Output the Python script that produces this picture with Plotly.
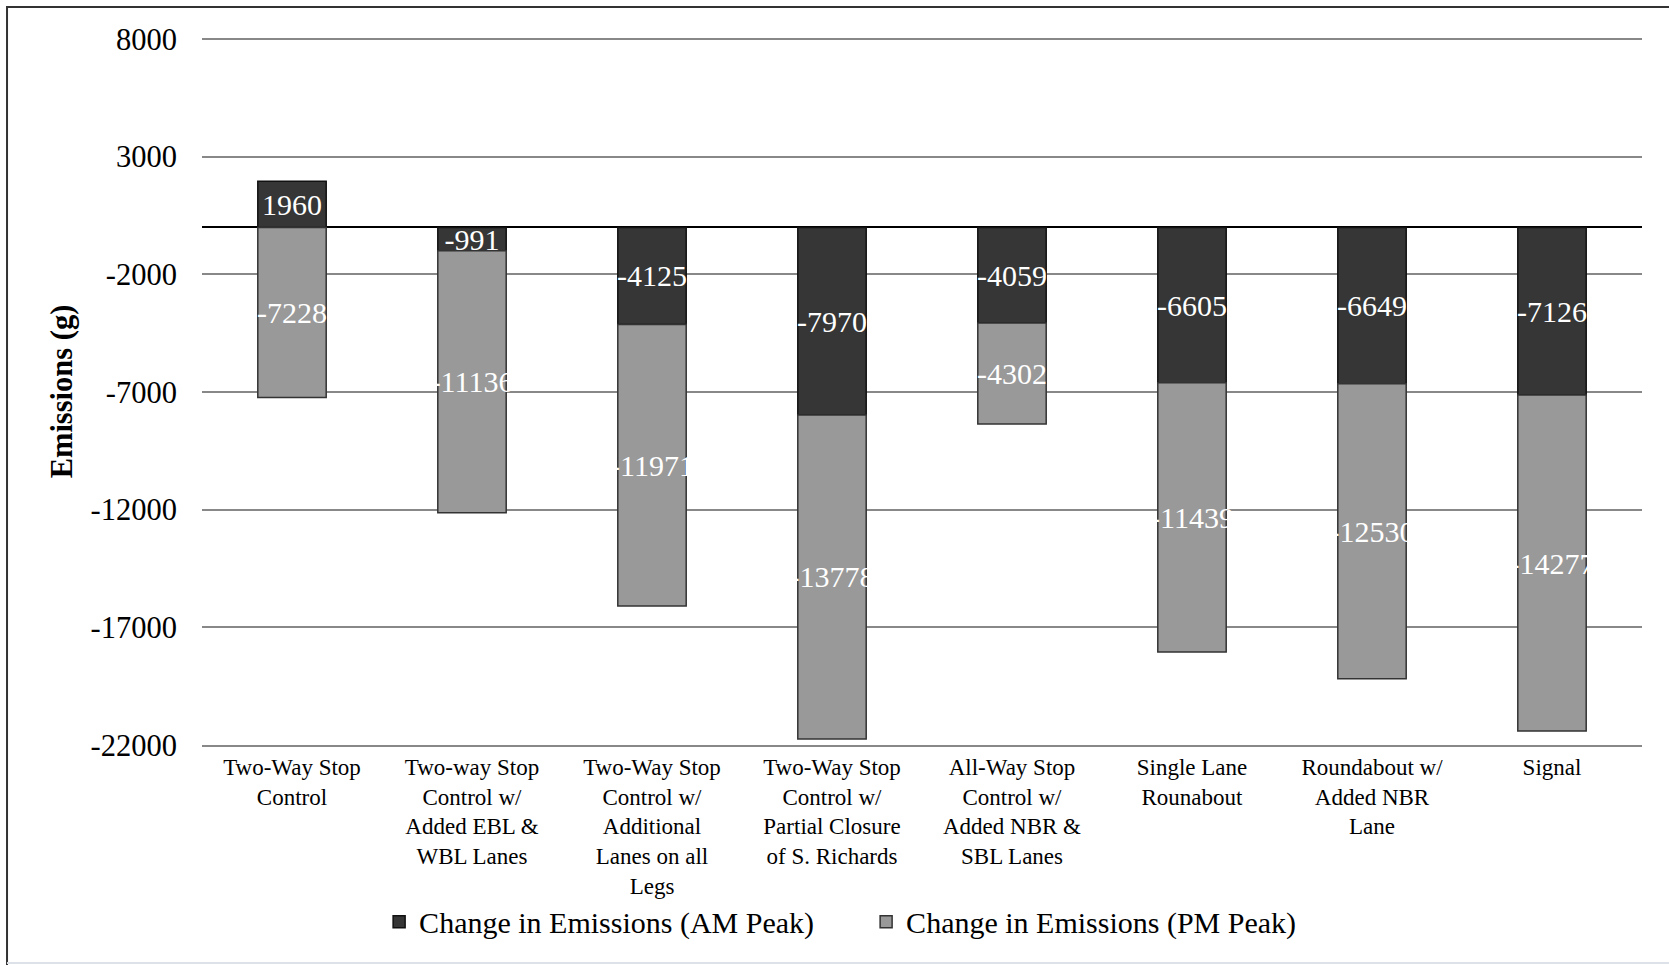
import plotly.graph_objects as go

categories = [
    "Two-Way Stop<br>Control",
    "Two-way Stop<br>Control w/<br>Added EBL &<br>WBL Lanes",
    "Two-Way Stop<br>Control w/<br>Additional<br>Lanes on all<br>Legs",
    "Two-Way Stop<br>Control w/<br>Partial Closure<br>of S. Richards",
    "All-Way Stop<br>Control w/<br>Added NBR &<br>SBL Lanes",
    "Single Lane<br>Rounabout",
    "Roundabout w/<br>Added NBR<br>Lane",
    "Signal",
]
am_peak = [1960, -991, -4125, -7970, -4059, -6605, -6649, -7126]
pm_peak = [-7228, -11136, -11971, -13778, -4302, -11439, -12530, -14277]
series_names = ["Change in Emissions (AM Peak)", "Change in Emissions (PM Peak)"]
y_ticks = [8000, 3000, -2000, -7000, -12000, -17000, -22000]

FONT = "Liberation Serif, Times New Roman, serif"

fig = go.Figure()
fig.add_trace(go.Bar(
    x=categories, y=am_peak, name=series_names[0],
    marker=dict(color="#353635", line=dict(color="#111111", width=1.5)),
    text=[str(v) for v in am_peak], textposition="inside",
    insidetextanchor="middle", constraintext="none", textangle=0,
    textfont=dict(family=FONT, size=30, color="white"),
))
fig.add_trace(go.Bar(
    x=categories, y=pm_peak, name=series_names[1],
    marker=dict(color="#999999", line=dict(color="#333333", width=1.5)),
    text=[str(v) for v in pm_peak], textposition="inside",
    insidetextanchor="middle", constraintext="none", textangle=0,
    textfont=dict(family=FONT, size=30, color="white"),
))

fig.update_layout(
    width=1669, height=965,
    barmode="relative", bargap=0.62,
    paper_bgcolor="white", plot_bgcolor="white",
    margin=dict(l=202, r=27, t=38, b=220),
    font=dict(family=FONT, color="black"),
    showlegend=True,
    legend=dict(
        orientation="h", x=0.123, xanchor="left", y=-0.25, yanchor="middle",
        font=dict(family=FONT, size=30, color="black"),
        entrywidth=442, traceorder="normal", bgcolor="rgba(0,0,0,0)",
    ),
    shapes=[
        dict(type="rect", xref="paper", yref="paper",
             x0=-0.1354, x1=1.03, y0=-0.33, y1=1.0438,
             line=dict(color="#333333", width=2), fillcolor="rgba(0,0,0,0)", layer="below"),
        dict(type="line", xref="paper", yref="paper",
             x0=-0.1354, x1=1.03, y0=-0.3083, y1=-0.3083,
             line=dict(color="#dde2e8", width=2), layer="below"),
    ],
)
fig.update_yaxes(
    range=[-22000, 8050], tickvals=y_ticks, ticktext=[str(v) for v in y_ticks],
    showgrid=True, gridcolor="#888888", gridwidth=2,
    zeroline=True, zerolinecolor="black", zerolinewidth=2,
    tickfont=dict(family=FONT, size=30.5, color="black"),
    ticklabelstandoff=24,
    title=dict(text="<b>Emissions (g)</b>", font=dict(family=FONT, size=30.5, color="black"), standoff=8),
)
fig.update_xaxes(
    showline=True, linecolor="#888888", linewidth=2,
    tickfont=dict(family=FONT, size=23, color="black"),
    ticks="", tickangle=0,
)

fig.write_html("out.html", config={"displayModeBar": False},
               post_script="document.body.style.margin='0';")
